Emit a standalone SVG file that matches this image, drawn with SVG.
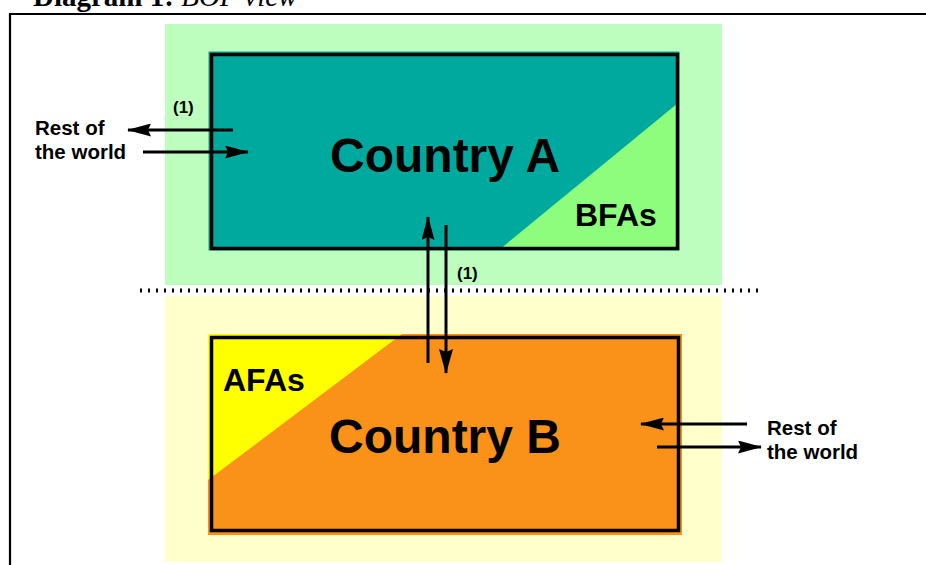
<svg xmlns="http://www.w3.org/2000/svg" width="926" height="565" viewBox="0 0 926 565">
  <style>
    .title { font-family: "Liberation Serif", "Times New Roman", serif; font-size: 29px; fill: #000; }
    .big { font-family: "Liberation Sans", Arial, sans-serif; font-weight: bold; font-size: 48px; fill: #000; }
    .mid { font-family: "Liberation Sans", Arial, sans-serif; font-weight: bold; font-size: 32px; fill: #000; }
    .lbl { font-family: "Liberation Sans", Arial, sans-serif; font-weight: bold; font-size: 20.5px; fill: #000; }
    .note { font-family: "Liberation Sans", Arial, sans-serif; font-weight: bold; font-size: 17px; fill: #000; }
    .box { fill: none; stroke: #000; stroke-width: 3.5; }
    .flow { stroke: #000; stroke-width: 3; fill: none; }
  </style>
  <defs>
    <marker id="head" viewBox="0 0 24 13" refX="23" refY="6.5" markerWidth="24" markerHeight="13" markerUnits="userSpaceOnUse" orient="auto">
      <path d="M0,0 L24,6.5 L0,13 L3,6.5 Z" fill="#000"/>
    </marker>
    <marker id="headBig" viewBox="0 0 25 14" refX="24" refY="7" markerWidth="25" markerHeight="14" markerUnits="userSpaceOnUse" orient="auto">
      <path d="M0,0 L25,7 L0,14 L3,7 Z" fill="#000"/>
    </marker>
  </defs>

  <rect width="926" height="565" fill="#fff"/>

  <!-- title, partly above the frame -->
  <text class="title" x="33" y="6"><tspan font-weight="bold">Diagram 1:</tspan> <tspan font-style="italic">BOP view</tspan></text>

  <!-- outer frame -->
  <path d="M10,565 V14 H926" fill="none" stroke="#000" stroke-width="2.2"/>

  <!-- zone backgrounds -->
  <rect x="165" y="24" width="557" height="261" fill="#BDFDBD"/>
  <rect x="165" y="296" width="557" height="266" fill="#FFFFCC"/>
  <line x1="140" y1="290.5" x2="758" y2="290.5" stroke="#000" stroke-width="4" stroke-dasharray="2 6"/>

  <g id="country-a">
    <rect x="208.5" y="51.5" width="471" height="199" fill="#00A99D"/>
    <polygon points="678,103 678,250 499,250" fill="#8EFD7E"/>
    <rect class="box" x="211.5" y="54.5" width="466" height="194"/>
    <text class="big" x="330" y="172">Country A</text>
    <text class="mid" x="575" y="226">BFAs</text>
  </g>

  <g id="country-b">
    <rect x="208" y="334" width="474" height="201" fill="#FA9118"/>
    <polygon points="208,334 402,334 208,480" fill="#FFFF00"/>
    <rect class="box" x="211.5" y="337.5" width="467" height="193"/>
    <text class="big" x="329" y="453">Country B</text>
    <text class="mid" x="223" y="391">AFAs</text>
  </g>

  <g id="rest-of-world-left">
    <text class="lbl" x="35" y="135">Rest of</text>
    <text class="lbl" x="35" y="159">the world</text>
  </g>

  <g id="rest-of-world-right">
    <text class="lbl" x="767" y="435">Rest of</text>
    <text class="lbl" x="767" y="459">the world</text>
  </g>

  <g id="connectors">
    <line class="flow" x1="233" y1="130" x2="128" y2="130" marker-end="url(#head)"/>
    <line class="flow" x1="143" y1="152" x2="248" y2="152" marker-end="url(#head)"/>
    <line class="flow" x1="747" y1="424" x2="641" y2="424" marker-end="url(#head)"/>
    <line class="flow" x1="657" y1="447" x2="761" y2="447" marker-end="url(#head)"/>
    <line class="flow" x1="428" y1="363" x2="428" y2="217" stroke-width="2.2" marker-end="url(#head)"/>
    <line class="flow" x1="446" y1="225" x2="446" y2="373" stroke-width="3.5" marker-end="url(#headBig)"/>
    <text class="note" x="173" y="113">(1)</text>
    <text class="note" x="457" y="279">(1)</text>
  </g>
</svg>
